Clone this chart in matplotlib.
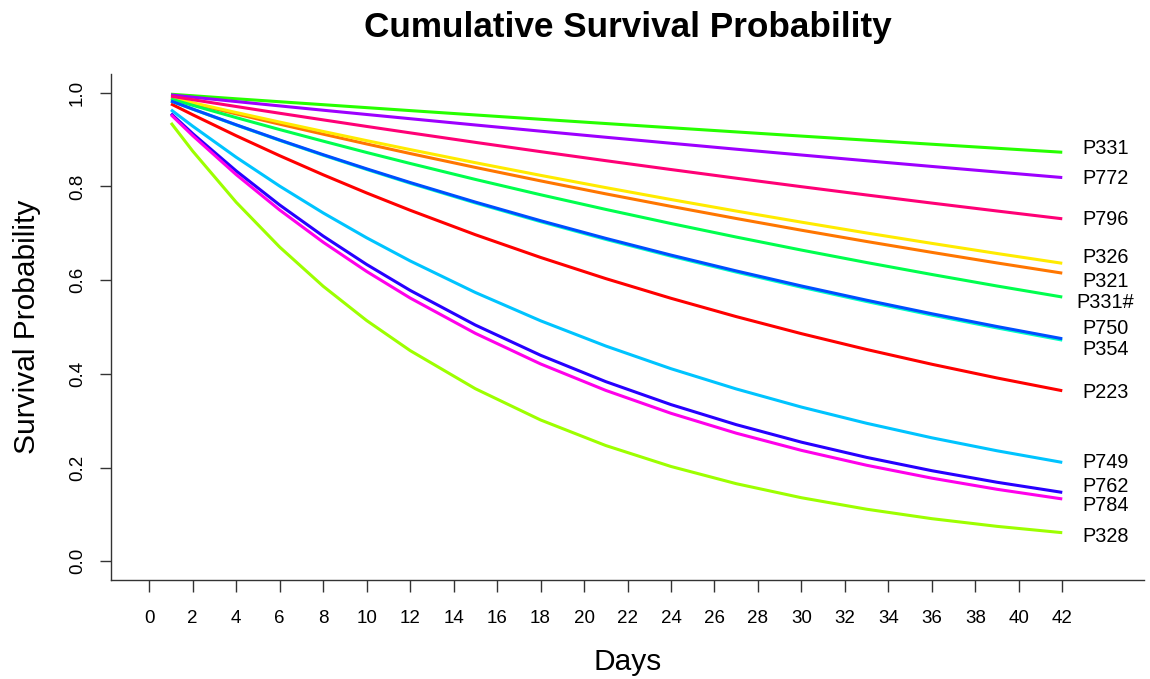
import matplotlib
matplotlib.use("Agg")
import matplotlib.pyplot as plt

plt.rcParams['font.family'] = ['Liberation Sans', 'DejaVu Sans']

# ---------------- data ----------------
days = [1, 2, 4, 6, 8, 10, 12, 15, 18, 21, 24, 27, 30, 33, 36, 39, 42]

names = ["P223", "P321", "P326", "P328", "P331", "P331#", "P354",
         "P749", "P750", "P762", "P772", "P784", "P796"]

p223 = [0.9762, 0.9530, 0.9082, 0.8656, 0.8249, 0.7861, 0.7492, 0.6970, 0.6485,
        0.6033, 0.5613, 0.5222, 0.4858, 0.4520, 0.4205, 0.3912, 0.3640]
p321 = [0.9885, 0.9771, 0.9548, 0.9329, 0.9116, 0.8907, 0.8703, 0.8406, 0.8119,
        0.7842, 0.7575, 0.7316, 0.7066, 0.6825, 0.6593, 0.6367, 0.6150]
p326 = [0.9893, 0.9787, 0.9578, 0.9374, 0.9174, 0.8978, 0.8787, 0.8507, 0.8237,
        0.7975, 0.7721, 0.7475, 0.7238, 0.7007, 0.6785, 0.6569, 0.6360]
p328 = [0.9356, 0.8753, 0.7662, 0.6706, 0.5870, 0.5138, 0.4497, 0.3683, 0.3016,
        0.2470, 0.2023, 0.1656, 0.1356, 0.1111, 0.0909, 0.0745, 0.0610]
p331 = [0.9968, 0.9936, 0.9871, 0.9808, 0.9745, 0.9682, 0.9619, 0.9526, 0.9434,
        0.9343, 0.9253, 0.9164, 0.9075, 0.8988, 0.8901, 0.8815, 0.8730]
p331h = [0.9865, 0.9731, 0.9469, 0.9214, 0.8967, 0.8725, 0.8491, 0.8150, 0.7823,
         0.7510, 0.7209, 0.6920, 0.6642, 0.6376, 0.6121, 0.5875, 0.5640]
p354 = [0.9823, 0.9649, 0.9310, 0.8983, 0.8667, 0.8363, 0.8069, 0.7648, 0.7249,
        0.6870, 0.6512, 0.6172, 0.5849, 0.5544, 0.5254, 0.4980, 0.4720]
p749 = [0.9636, 0.9286, 0.8623, 0.8007, 0.7435, 0.6904, 0.6411, 0.5737, 0.5133,
        0.4594, 0.4110, 0.3678, 0.3291, 0.2945, 0.2635, 0.2358, 0.2110]
p750 = [0.9824, 0.9652, 0.9316, 0.8991, 0.8678, 0.8376, 0.8084, 0.7666, 0.7269,
        0.6892, 0.6535, 0.6197, 0.5876, 0.5572, 0.5283, 0.5010, 0.4750]
p762 = [0.9554, 0.9127, 0.8331, 0.7604, 0.6941, 0.6335, 0.5782, 0.5042, 0.4397,
        0.3834, 0.3344, 0.2916, 0.2542, 0.2217, 0.1933, 0.1686, 0.1470]
p772 = [0.9953, 0.9905, 0.9812, 0.9719, 0.9627, 0.9536, 0.9446, 0.9312, 0.9180,
        0.9050, 0.8922, 0.8795, 0.8671, 0.8548, 0.8427, 0.8308, 0.8190]
p784 = [0.9531, 0.9084, 0.8252, 0.7497, 0.6810, 0.6186, 0.5619, 0.4865, 0.4212,
        0.3647, 0.3158, 0.2734, 0.2367, 0.2049, 0.1774, 0.1536, 0.1330]
p796 = [0.9926, 0.9852, 0.9706, 0.9562, 0.9421, 0.9281, 0.9144, 0.8941, 0.8743,
        0.8550, 0.8361, 0.8176, 0.7995, 0.7818, 0.7645, 0.7476, 0.7310]

series = [p223, p321, p326, p328, p331, p331h, p354,
          p749, p750, p762, p772, p784, p796]

colors = ["#FF0000", "#FF7600", "#FFEB00", "#9DFF00", "#27FF00", "#00FF4E",
          "#00FFC4", "#00C4FF", "#004EFF", "#2700FF", "#9D00FF", "#FF00EB",
          "#FF0076"]

# label vertical positions (nudged to avoid overlap, as in the reference)
label_y = [0.361, 0.597, 0.649, 0.052, 0.882, 0.553, 0.451,
           0.210, 0.496, 0.160, 0.818, 0.118, 0.730]
label_x = 44

xticks = list(range(0, 43, 2))
yticks = [0.0, 0.2, 0.4, 0.6, 0.8, 1.0]
ytick_labels = ["0.0", "0.2", "0.4", "0.6", "0.8", "1.0"]

# ---------------- figure ----------------
W, H = 1150, 679
fig = plt.figure(figsize=(W / 100, H / 100), dpi=100)
ax = fig.add_axes([111 / W, (H - 580) / H, (1144 - 111) / W, (580 - 74) / H])

for vals, col in zip(series, colors):
    ax.plot(days, vals, color=col, lw=2.2, solid_capstyle='butt')

for name, y in zip(names, label_y):
    ax.text(label_x, y, name, ha='center', va='center', fontsize=14.3, color='black')

ax.set_xlim(-1.76, 45.76)
ax.set_ylim(-0.04, 1.04)
ax.set_xticks(xticks)
ax.set_xticklabels([str(t) for t in xticks])
ax.set_yticks(yticks)
ax.set_yticklabels(ytick_labels, rotation=90, va='center')

for s in ['top', 'right']:
    ax.spines[s].set_visible(False)
for s in ['left', 'bottom']:
    ax.spines[s].set_color('#333333')
    ax.spines[s].set_linewidth(1.0)

ax.tick_params(axis='x', length=8.5, width=1.0, color='#333333', labelsize=13.5, pad=13)
ax.tick_params(axis='y', length=8, width=1.0, color='#333333', labelsize=13.5, pad=10)

fig.text(627.5 / W, 1 - 27 / H, "Cumulative Survival Probability",
         ha='center', va='center', fontsize=25.3, fontweight='bold')
fig.text(627.5 / W, 1 - 662 / H, "Days", ha='center', va='center', fontsize=21.5)
fig.text(27 / W, 1 - 327 / H, "Survival Probability", ha='center', va='center',
         rotation=90, fontsize=21.5)

fig.savefig("out.png", dpi=100)
